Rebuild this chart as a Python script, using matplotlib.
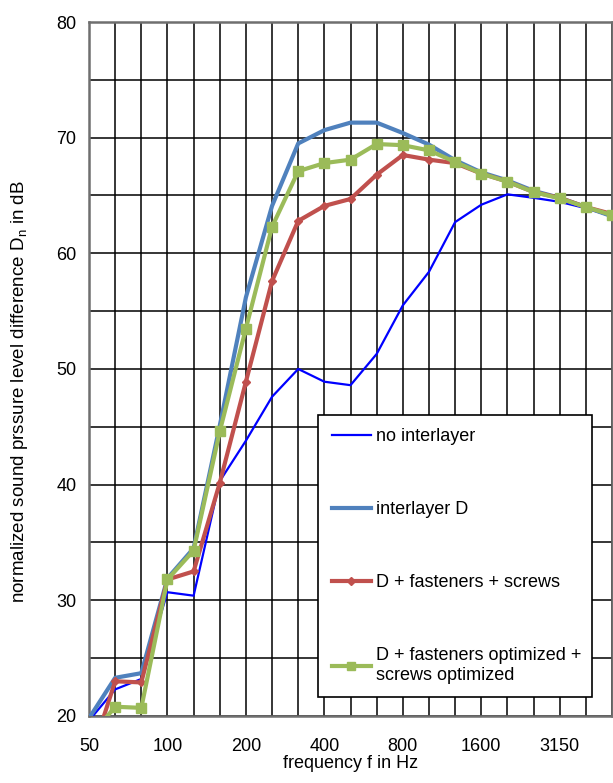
import numpy as np
import matplotlib.pyplot as plt

plt.rcParams['font.family'] = ['Liberation Sans', 'DejaVu Sans']

# -----------------------------
# Data (third-octave bands)
# -----------------------------
bands = ["50", "63", "80", "100", "125", "160", "200", "250", "315", "400", "500",
         "630", "800", "1000", "1250", "1600", "2000", "2500", "3150", "4000", "5000"]
tick_labels = ["50", "100", "200", "400", "800", "1600", "3150"]

no_interlayer = [19.6, 22.3, 23.2, 30.7, 30.4, 40.3, 43.8, 47.6, 50.0, 48.9, 48.6,
                 51.3, 55.5, 58.4, 62.7, 64.2, 65.1, 64.8, 64.45, 63.9, 63.2]
interlayer_d = [19.8, 23.3, 23.7, 31.9, 34.5, 45.1, 56.2, 64.1, 69.5, 70.65, 71.3,
                71.3, 70.4, 69.4, 68.05, 67.0, 66.3, 65.4, 64.8, 64.0, 63.2]
d_fast_screws = [16.0, 23.0, 22.9, 31.8, 32.5, 40.15, 48.9, 57.6, 62.8, 64.1, 64.7,
                 66.8, 68.5, 68.1, 67.8, 66.9, 66.2, 65.3, 64.8, 64.0, 63.4]
d_fast_opt = [18.1, 20.8, 20.7, 31.8, 34.3, 44.6, 53.5, 62.3, 67.1, 67.8, 68.1,
              69.45, 69.35, 68.9, 67.9, 66.9, 66.2, 65.3, 64.75, 64.0, 63.3]

x = np.arange(len(bands))

fig = plt.figure(figsize=(6.13, 7.83), dpi=100)
ax = fig.add_axes([0.1452, 0.0856, 0.8532, 0.8863])

ax.plot(x, no_interlayer, color="#0000FF", lw=1.6, label="no interlayer", zorder=3)
ax.plot(x, interlayer_d, color="#4F81BD", lw=3.0, label="interlayer D", zorder=3)
ax.plot(x, d_fast_screws, color="#C0504D", lw=3.0, marker="D", ms=4.5,
        label="D + fasteners + screws", zorder=4)
ax.plot(x, d_fast_opt, color="#9BBB59", lw=3.0, marker="s", ms=7,
        label="D + fasteners optimized +\nscrews optimized", zorder=5)

ax.set_xlim(0, len(bands) - 1)
ax.set_ylim(20, 80)
ax.set_xticks(x, minor=True)
ax.set_xticks([bands.index(t) for t in tick_labels])
ax.set_xticklabels(tick_labels)
ax.set_yticks(np.arange(20, 81, 10))
ax.set_yticks(np.arange(25, 80, 10), minor=True)
ax.grid(True, which="both", color="black", lw=1.1)
ax.set_axisbelow(True)
ax.tick_params(which="both", length=0, labelsize=13)
ax.tick_params(axis="x", pad=16)
ax.tick_params(axis="y", pad=9)

for s in ax.spines.values():
    s.set_color("#6f6f6f")
    s.set_linewidth(1.8)

ax.set_xlabel("frequency f in Hz", fontsize=13, labelpad=0)
ax.set_ylabel("normalized sound prssure level difference D$_\\mathregular{n}$ in dB",
              fontsize=13.5)
ax.yaxis.set_label_coords(-0.113, 0.467)

leg = ax.legend(loc="upper left", bbox_to_anchor=(0.438, 0.434, 0.524, 0.0),
                mode="expand", borderaxespad=0, fontsize=13, labelspacing=3.1,
                handlelength=2.2, handletextpad=0.25, borderpad=0.75,
                fancybox=False, framealpha=1, edgecolor="black", markerscale=0.8)
leg.get_frame().set_linewidth(1.2)
leg.set_zorder(10)

fig.savefig("out.png", dpi=100)
